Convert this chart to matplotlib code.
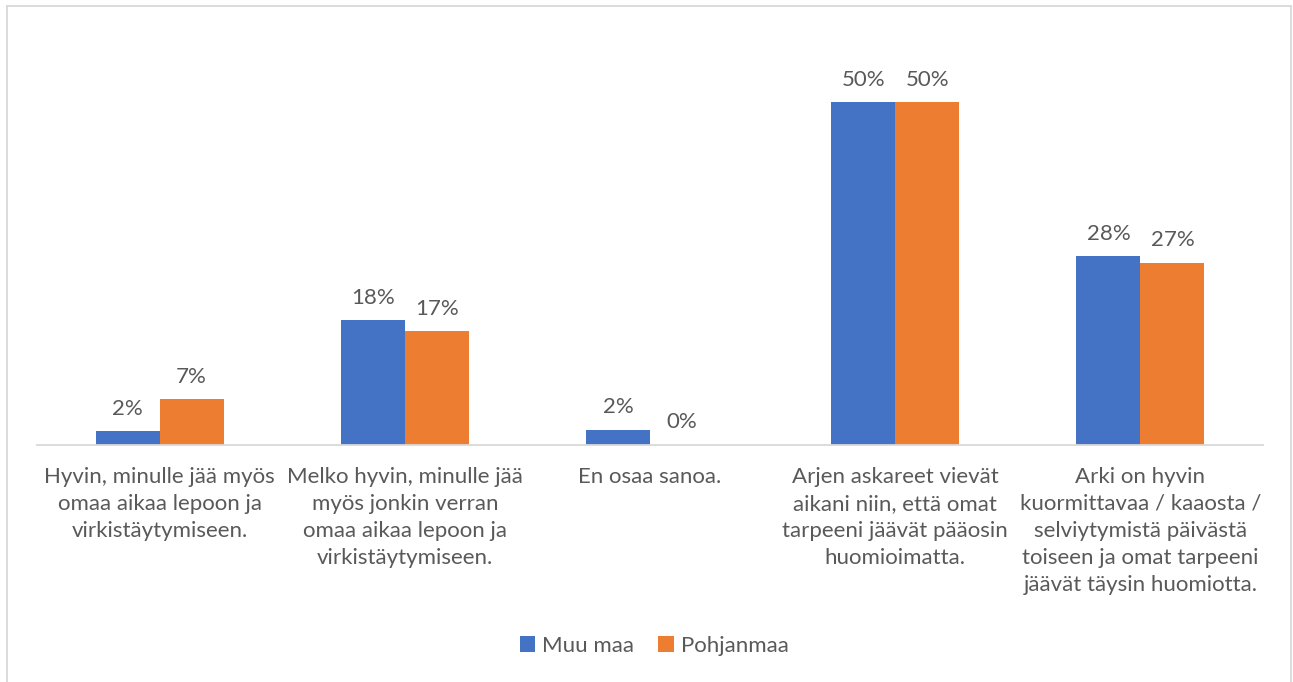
import matplotlib
matplotlib.use("Agg")
import matplotlib.pyplot as plt
from matplotlib.lines import Line2D
from matplotlib.patches import Patch
import matplotlib.transforms as mtransforms

categories = [
    "Hyvin, minulle jää myös\nomaa aikaa lepoon ja\nvirkistäytymiseen.",
    "Melko hyvin, minulle jää\nmyös jonkin verran\nomaa aikaa lepoon ja\nvirkistäytymiseen.",
    "En osaa sanoa.",
    "Arjen askareet vievät\naikani niin, että omat\ntarpeeni jäävät pääosin\nhuomioimatta.",
    "Arki on hyvin\nkuormittavaa / kaaosta /\nselviytymistä päivästä\ntoiseen ja omat tarpeeni\njäävät täysin huomiotta.",
]
series_names = ["Muu maa", "Pohjanmaa"]
muu_maa = [2.0, 18.2, 2.2, 50.0, 27.5]
pohjanmaa = [6.7, 16.6, 0.0, 50.0, 26.6]
colors = ["#4472C4", "#ED7D31"]

text_color = "#595959"
font = "Lato"
fs = 16

fig = plt.figure(figsize=(12.93, 6.82), dpi=100)
W, H = 1293, 682
ax = fig.add_axes([37 / W, (H - 445) / H, 1226 / W, 0.6035])

x = list(range(len(categories)))
bw = 0.261
for vals, off, c, name in [(muu_maa, -bw / 2, colors[0], series_names[0]),
                           (pohjanmaa, bw / 2, colors[1], series_names[1])]:
    xs = [xi + off for xi in x]
    ax.bar(xs, vals, width=bw, color=c, label=name, zorder=2)
    for xi, v in zip(xs, vals):
        ax.annotate(f"{v:.0f}%", (xi, v), xytext=(0, 9), textcoords="offset points",
                    ha="center", va="bottom", fontsize=fs, color=text_color, family=font)

ax.set_xlim(-0.5, 4.5)
ax.set_ylim(0, 60)
ax.set_yticks([])
ax.set_xticks([])
for s in ["top", "left", "right"]:
    ax.spines[s].set_visible(False)
ax.spines["bottom"].set_color("#D9D9D9")
ax.spines["bottom"].set_linewidth(1.3)

trans = mtransforms.blended_transform_factory(ax.transData, ax.transAxes)
off = mtransforms.offset_copy(trans, fig=fig, x=0, y=-22 * 72 / 100, units="points")
for xi, lab in zip(x, categories):
    ax.text(xi, 0, lab, transform=off, ha="center", va="top", fontsize=fs,
            color=text_color, family=font, linespacing=1.43)

handles = [Patch(facecolor=c) for c in colors]
fig.legend(handles, series_names, loc="center", bbox_to_anchor=(654 / W, 1 - 646 / H),
           ncol=2, frameon=False, handlelength=0.7, handleheight=0.7, handletextpad=0.3,
           columnspacing=1.1, prop={"family": font, "size": fs}, labelcolor=text_color)

bc = "#D9D9D9"
fig.add_artist(Line2D([6.5 / W, 6.5 / W], [0, 1 - 5.5 / H], color=bc, lw=1.3, transform=fig.transFigure))
fig.add_artist(Line2D([6.5 / W, 1290.5 / W], [1 - 5.5 / H, 1 - 5.5 / H], color=bc, lw=1.3, transform=fig.transFigure))
fig.add_artist(Line2D([1290.5 / W, 1290.5 / W], [0, 1 - 5.5 / H], color=bc, lw=1.3, transform=fig.transFigure))

fig.savefig("out.png", dpi=100)
